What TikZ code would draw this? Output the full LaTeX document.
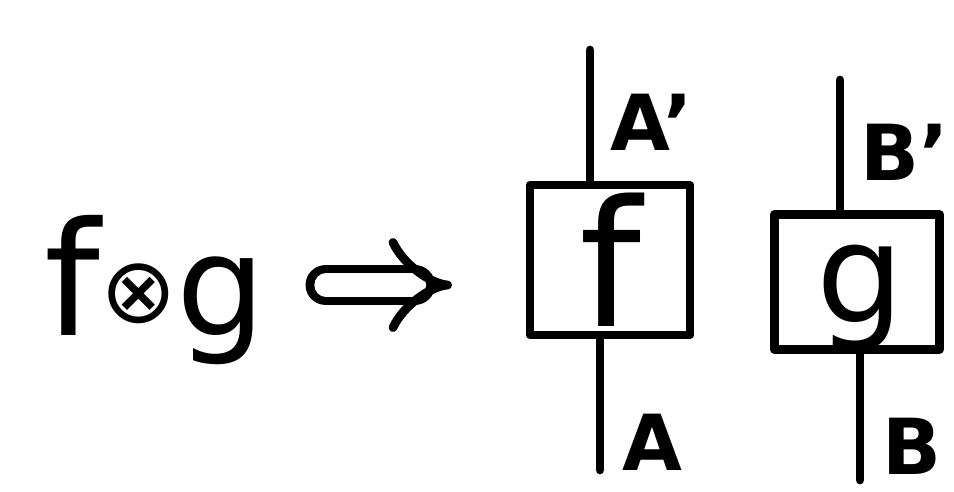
\documentclass[tikz,border=0pt]{standalone}
\usepackage{fontspec}
\setmainfont{DejaVu Sans}
\usetikzlibrary{arrows.meta, positioning, calc}

\begin{document}
\begin{tikzpicture}[
  x=0.03cm, y=-0.03cm,
  line width=7.5pt, line cap=round, line join=round,
  box/.style={draw, inner sep=0pt},
  lbl/.style={anchor=base west, inner sep=0pt, font=\fontsize{66}{66}\selectfont\bfseries},
  wire/.style={draw}
]
\useasboundingbox (0,0) rectangle (954,491);
% left side: the product
\node[anchor=base west, inner sep=0pt, font=\fontsize{135}{135}\selectfont] (prod) at (40,335)
  {f\raisebox{0.08em}{\fontsize{78}{78}\selectfont ⊗}{\fontsize{120}{120}\selectfont g}};
% the arrow
\coordinate (arrL) at (326,285);
\coordinate (arrR) at (452,285);
\draw[double, double distance=0.7cm, -{Implies}] (arrL) -- (arrR);
% the two boxes
\node[box, minimum width=4.8cm, minimum height=4.5cm, font=\fontsize{150}{150}\selectfont] (f) at (610,260) {f};
\node[box, minimum width=4.95cm, minimum height=4.05cm] (g) at (857,282) {};
\node[anchor=base, inner sep=0pt, font=\fontsize{118}{118}\selectfont] (gname) at (860,322) {g};
% wires
\coordinate (fin) at (590,50);
\coordinate (fout) at (600,470);
\coordinate (gin) at (840,80);
\coordinate (gout) at (860,480);
\draw[wire] (fin) -- (fin |- f.north);
\draw[wire] (fout) -- (fout |- f.south);
\draw[wire] (gin) -- (gin |- g.north);
\draw[wire] (gout) -- (gout |- g.south);
% labels
\node[lbl] (la1) at (606,150) {A'};
\node[lbl] (la) at (618,470) {A};
\node[lbl] (lb1) at (856,180) {B'};
\node[lbl] (lb) at (878,474) {B};
\end{tikzpicture}
\end{document}
